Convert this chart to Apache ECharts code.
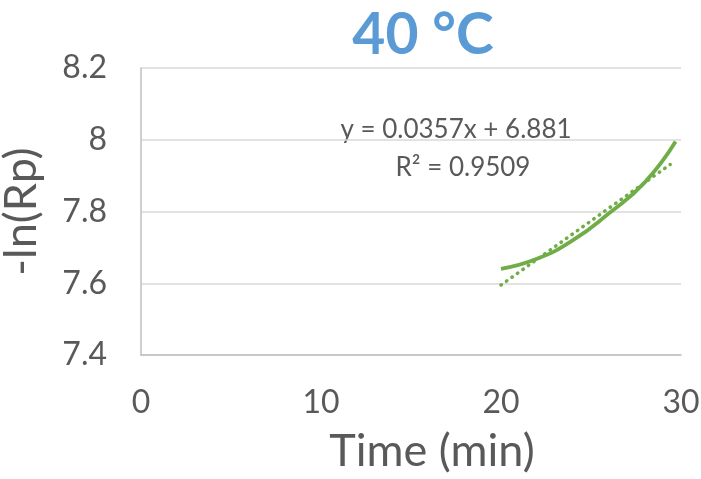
<!DOCTYPE html>
<html>
<head>
<meta charset="utf-8">
<script src="https://cdn.jsdelivr.net/npm/echarts@6/dist/echarts.min.js"></script>
<style>html,body{margin:0;padding:0;background:#fff}#chart{width:701px;height:479px}</style>
</head>
<body>
<div id="chart"></div>
<script>
// -ln(Rp) readings at 40 °C
var timeMin = [20, 22, 24, 26, 28, 29.7];
var lnRp = [7.64, 7.668, 7.72, 7.795, 7.882, 7.995];
// linear trendline end points
var trendTime = [20, 29.4];
var trendVal = [7.595, 7.931];
var eqText = "y = 0.0357x + 6.881";
var r2Text = "R² = 0.9509";

var font = "Lato";
var txt = "#595959";

var chart = echarts.init(document.getElementById("chart"));
chart.setOption({
  animation: false,
  title: {
    text: "40 °C",
    left: 418, top: 2, textAlign: "center",
    textStyle: { fontFamily: font, fontSize: 57, fontWeight: "bold", color: "#5B9BD5" }
  },
  grid: { left: 141, right: 20, top: 68, bottom: 124, outerBoundsMode: "none" },
  xAxis: {
    type: "value", min: 0, max: 30, interval: 10,
    name: "Time (min)", nameLocation: "middle", nameGap: 74,
    nameTextStyle: { fontFamily: font, fontSize: 45, color: txt, padding: [0, 0, 0, 42] },
    axisLine: { show: true, lineStyle: { color: "#BFBFBF", width: 1.5 } },
    axisTick: { show: false },
    splitLine: { show: false },
    axisLabel: { fontFamily: font, fontSize: 32, color: txt, margin: 32 }
  },
  yAxis: {
    type: "value", min: 7.4, max: 8.2, interval: 0.2,
    name: "-ln(Rp)", nameLocation: "middle", nameGap: 97, nameRotate: 90,
    nameTextStyle: { fontFamily: font, fontSize: 45, color: txt },
    axisLine: { show: true, lineStyle: { color: "#BFBFBF", width: 1.5 } },
    axisTick: { show: false },
    splitLine: { lineStyle: { color: "#D9D9D9", width: 1.5 } },
    axisLabel: {
      fontFamily: font, fontSize: 32, color: txt, margin: 34,
      formatter: function (v) { return String(+v.toFixed(1)); }
    }
  },
  graphic: [
    { type: "text", x: 456, y: 130, style: { text: eqText, fontFamily: font, fontSize: 26, fill: txt, align: "center", verticalAlign: "middle" } },
    { type: "text", x: 463, y: 168, style: { text: r2Text, fontFamily: font, fontSize: 26, fill: txt, align: "center", verticalAlign: "middle" } }
  ],
  series: [
    {
      type: "line", smooth: true, symbol: "none",
      data: timeMin.map(function (t, i) { return [t, lnRp[i]]; }),
      lineStyle: { color: "#70AD47", width: 3.8 }
    },
    {
      type: "line", symbol: "none",
      data: trendTime.map(function (t, i) { return [t, trendVal[i]]; }),
      lineStyle: { color: "#70AD47", width: 3.5, type: [0.5, 6.2], cap: "round" }
    }
  ]
});
</script>
</body>
</html>
